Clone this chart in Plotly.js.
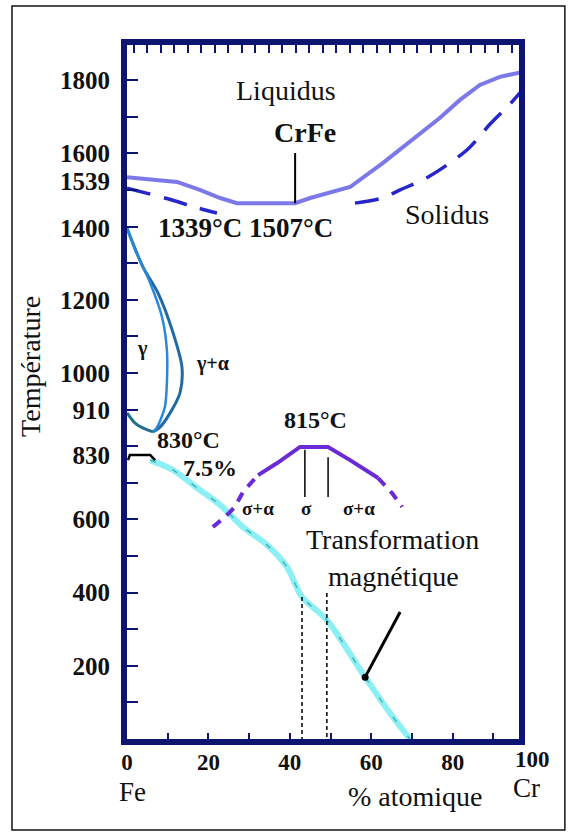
<!DOCTYPE html>
<html>
<head>
<meta charset="utf-8">
<script src="https://cdn.plot.ly/plotly-3.0.1.min.js"></script>
<style>html,body{margin:0;padding:0;background:#fff;}#chart{width:573px;height:832px;}</style>
</head>
<body>
<div id="chart"></div>
<script>
// ---- data (x = % atomique Cr, y = température °C) ----
const liquidusX = [0, 12.3, 17.9, 22.9, 27.0, 41.3, 45.0, 54.8, 62.9, 69.5, 76.9, 81.8, 86.7, 91.6, 97.0];
const liquidusT = [1535, 1522, 1500, 1478, 1464, 1464, 1478, 1508, 1574, 1631, 1697, 1746, 1787, 1809, 1822];

const solidusX = [0, 9.3, 17.4, 22.1, null, 56.0, 62.7, 67.1, 74.4, 83.5, 89.2, 94.1, 97.1];
const solidusT = [1505, 1478, 1451, 1437, null, 1464, 1478, 1500, 1538, 1609, 1680, 1735, 1773];

const gammaOuterX = [0, 3.9, 7.6, 11.1, 13.5, 13.0, 10.6, 8.1, 6.4];
const gammaOuterT = [1396, 1290, 1219, 1117, 1016, 945, 891, 852, 839];
const gammaInnerX = [0, 2.0, 5.7, 8.6, 9.8, 9.8, 9.3, 7.4, 6.4];
const gammaInnerT = [1396, 1336, 1246, 1153, 1063, 973, 907, 852, 839];
const gammaLowX = [0, 2.0, 4.4, 6.4];
const gammaLowT = [891, 863, 847, 839];

const curieX = [5.7, 11.3, 17.2, 22.9, 28.5, 34.4, 39.3, 43.0, 49.1, 58.5, 64.6, 69.5];
const curieT = [762, 735, 686, 639, 579, 530, 470, 388, 325, 169, 71, 0];
const hookX = [0.25, 0.7, 5.7, 6.9];
const hookT = [762, 776, 776, 762];

const sigmaX = [32.2, 36.9, 42.5, 49.4, 54.8, 61.7];
const sigmaT = [721, 754, 798, 798, 762, 713];
const sigmaDashX = [21.1, 24.1, 26.5, 28.5, 32.2, null, 61.7, 65.1, 67.6];
const sigmaDashT = [579, 607, 634, 675, 721, null, 713, 672, 634];

const sigmaLinesX = [43.7, 43.7, null, 49.4, 49.4];
const sigmaLinesT = [790, 661, null, 770, 661];
const compoDashX = [43.0, 43.0, null, 49.1, 49.1];
const compoDashT = [388, 0, null, 399, 0];
const crfeX = [41.3, 41.3];
const crfeT = [1601, 1464];
const arrowX = [67.1, 58.5];
const arrowT = [347, 169];

const xTickVals = [0, 20, 40, 60, 80];
const xTickText = ['0', '20', '40', '60', '80'];
const yTickPos = [200, 400, 600, 776, 899, 1000, 1200, 1395, 1525, 1600, 1800];
const yTickText = ['200', '400', '600', '830', '910', '1000', '1200', '1400', '1539', '1600', '1800'];

// ---- styles ----
const NAVY = '#0c1570';
const SERIF = 'Liberation Serif, Times New Roman, serif';
const XR = [0, 96.3], YR = [0, 1896];

function line(x, y, color, width, dash, smooth) {
  return {x: x, y: y, type: 'scatter', mode: 'lines', hoverinfo: 'skip',
    showlegend: false, connectgaps: false,
    line: {color: color, width: width, dash: dash || 'solid', shape: smooth ? 'spline' : 'linear', smoothing: 0.8}};
}

const traces = [
  line(liquidusX, liquidusT, '#7c78e8', 4),
  line(solidusX, solidusT, '#2626cc', 3.5, '24px,14px', true),
  line(crfeX, crfeT, '#000', 2),
  line(gammaOuterX, gammaOuterT, '#1f6aa5', 3, null, true),
  line(gammaInnerX, gammaInnerT, '#2a88d8', 2.5, null, true),
  line(gammaLowX, gammaLowT, '#236f8c', 3, null, true),
  line(curieX, curieT, '#8beff3', 6, null, true),
  line(curieX, curieT, '#3aa7b4', 1.2, '6px,18px', true),
  line(hookX, hookT, '#000', 2.5),
  line(sigmaX, sigmaT, '#6a2ad6', 4),
  line(sigmaDashX, sigmaDashT, '#6a2ad6', 4, '10px,8px'),
  line(sigmaLinesX, sigmaLinesT, '#000', 1.5),
  line(compoDashX, compoDashT, '#000', 1.5, '4px,3px'),
  line(arrowX, arrowT, '#000', 3),
  {x: [arrowX[1]], y: [arrowT[1]], type: 'scatter', mode: 'markers', hoverinfo: 'skip', showlegend: false,
   marker: {color: '#000', size: 7}},
  {x: [null], y: [null], xaxis: 'x2', yaxis: 'y', type: 'scatter', showlegend: false, hoverinfo: 'skip'},
  {x: [null], y: [null], xaxis: 'x3', yaxis: 'y', type: 'scatter', showlegend: false, hoverinfo: 'skip'},
  {x: [null], y: [null], xaxis: 'x', yaxis: 'y2', type: 'scatter', showlegend: false, hoverinfo: 'skip'}
];

function txt(text, x, y, size, bold, extra) {
  return Object.assign({text: bold ? '<b>' + text + '</b>' : text, x: x, y: y, xref: 'x', yref: 'y',
    showarrow: false, xanchor: 'center', yanchor: 'middle',
    font: {family: SERIF, size: size, color: '#111'}}, extra || {});
}
function ptxt(text, x, y, size, bold, extra) {
  return txt(text, x, y, size, bold, Object.assign({xref: 'paper', yref: 'paper'}, extra || {}));
}

const annotations = [
  txt('Liquidus', 39.1, 1773, 28, false),
  txt('CrFe', 43.7, 1656, 28, true),
  txt('Solidus', 78.6, 1432, 28, false),
  txt('1339°C 1507°C', 29.2, 1396, 27, true),
  txt('γ', 3.7, 1068, 20, true),
  txt('γ+α', 20.9, 1027, 20, true),
  txt('815°C', 46.4, 872, 24, true),
  txt('830°C', 15.0, 817, 24, true),
  txt('7.5%', 20.4, 740, 24, true),
  txt('σ+α', 32.2, 631, 19, true),
  txt('σ', 44.2, 631, 19, true),
  txt('σ+α', 57.0, 631, 19, true),
  txt('Transformation', 65.1, 544, 28, false),
  txt('magnétique', 65.4, 443, 28, false),
  ptxt('Température', -0.245, 0.5375, 28, false, {textangle: -90}),
  ptxt('Fe', 0.0128, -0.0770, 27, false),
  ptxt('% atomique', 0.7347, -0.0830, 28, false),
  ptxt('Cr', 1.018, -0.0700, 27, false),
  ptxt('100', 1.0357, -0.0290, 23, true)
];

const layout = {
  width: 573, height: 832,
  margin: {l: 127, r: 54, t: 45, b: 93, pad: 0},
  paper_bgcolor: '#fff', plot_bgcolor: '#fff',
  showlegend: false,
  xaxis: {range: XR, tickmode: 'array', tickvals: xTickVals, ticktext: xTickText, ticks: '',
    showgrid: false, zeroline: false, showline: true, linewidth: 6, linecolor: NAVY, mirror: true,
    tickfont: {family: SERIF, size: 23, color: '#111', weight: 'bold'}, ticklabelstandoff: -3},
  xaxis2: {range: XR, overlaying: 'x', side: 'top', anchor: 'y', tickmode: 'linear', tick0: 1.6, dtick: 3.32,
    ticks: 'inside', ticklen: 8, tickwidth: 2, tickcolor: NAVY, showticklabels: false,
    showgrid: false, zeroline: false, showline: false},
  xaxis3: {range: XR, overlaying: 'x', side: 'bottom', anchor: 'y', tickmode: 'linear', tick0: 0, dtick: 10,
    ticks: 'inside', ticklen: 6, tickwidth: 2, tickcolor: NAVY, showticklabels: false,
    showgrid: false, zeroline: false, showline: false},
  yaxis: {range: YR, tickmode: 'array', tickvals: yTickPos, ticktext: yTickText, ticks: '',
    showgrid: false, zeroline: false, showline: true, linewidth: 6, linecolor: NAVY, mirror: true,
    tickfont: {family: SERIF, size: 25, color: '#111', weight: 'bold'}, ticklabelstandoff: 6},
  yaxis2: {range: YR, overlaying: 'y', side: 'left', anchor: 'x', tickmode: 'linear', tick0: 0, dtick: 100,
    ticks: 'inside', ticklen: 11, tickwidth: 2, tickcolor: NAVY, showticklabels: false,
    showgrid: false, zeroline: false, showline: false},
  annotations: annotations,
  shapes: [{type: 'rect', xref: 'paper', yref: 'paper', x0: -0.2934, x1: 1.117, y0: -0.1311, y1: 1.0562,
    line: {color: '#111', width: 1.5}, fillcolor: 'rgba(0,0,0,0)', layer: 'below'}]
};

Plotly.newPlot('chart', traces, layout, {staticPlot: true, displayModeBar: false});
</script>
</body>
</html>
